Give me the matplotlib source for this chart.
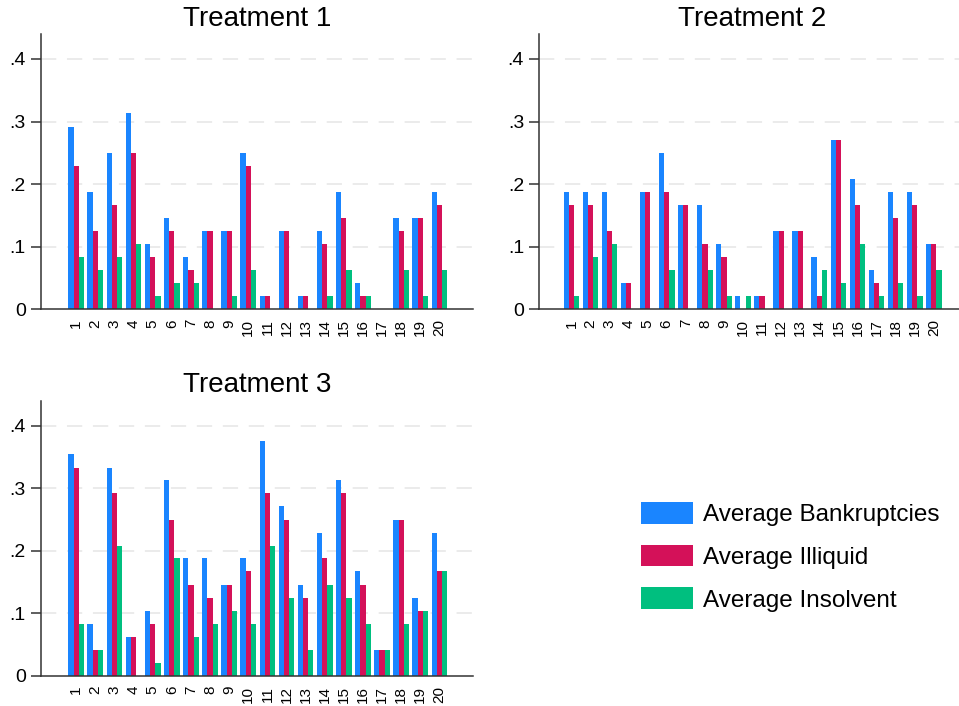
import numpy as np
import matplotlib.pyplot as plt
from matplotlib.patches import Patch

plt.rcParams['font.family'] = ['Liberation Sans', 'DejaVu Sans']

blue = '#1A85FF'
red = '#D41159'
green = '#00BF7F'
axis_color = '#333333'
grid_color = '#E6E6E6'

groups = list(range(1, 21))
labels = ['Average Bankruptcies', 'Average Illiquid', 'Average Insolvent']
titles = ['Treatment 1', 'Treatment 2', 'Treatment 3']

t1_bankrupt = [.292, .188, .25, .313, .104, .146, .083, .125, .125, .25, .021, .125, .021, .125, .188, .042, 0, .146, .146, .188]
t1_illiquid = [.229, .125, .167, .25, .083, .125, .063, .125, .125, .229, .021, .125, .021, .104, .146, .021, 0, .125, .146, .167]
t1_insolvent = [.083, .063, .083, .104, .021, .042, .042, 0, .021, .063, 0, 0, 0, .021, .063, .021, 0, .063, .021, .063]

t2_bankrupt = [.188, .188, .188, .042, .188, .25, .167, .167, .104, .021, .021, .125, .125, .083, .271, .208, .063, .188, .188, .104]
t2_illiquid = [.167, .167, .125, .042, .188, .188, .167, .104, .083, 0, .021, .125, .125, .021, .271, .167, .042, .146, .167, .104]
t2_insolvent = [.021, .083, .104, 0, 0, .063, 0, .063, .021, .021, 0, 0, 0, .063, .042, .104, .021, .042, .021, .063]

t3_bankrupt = [.354, .083, .333, .063, .104, .313, .188, .188, .146, .188, .375, .271, .146, .229, .313, .167, .042, .25, .125, .229]
t3_illiquid = [.333, .042, .292, .063, .083, .25, .146, .125, .146, .167, .292, .25, .125, .188, .292, .146, .042, .25, .104, .167]
t3_insolvent = [.083, .042, .208, 0, .021, .188, .063, .083, .104, .083, .208, .125, .042, .146, .125, .083, .042, .083, .104, .167]

panels = [
    (t1_bankrupt, t1_illiquid, t1_insolvent),
    (t2_bankrupt, t2_illiquid, t2_insolvent),
    (t3_bankrupt, t3_illiquid, t3_insolvent),
]

# axes rectangles in figure fractions, and x limits per panel
rects = [
    [0.0428, 0.5619, 0.4505, 0.390],
    [0.5624, 0.5619, 0.4439, 0.390],
    [0.0428, 0.0425, 0.4505, 0.390],
]
xlims = [(-0.84, 21.76), (-0.68, 21.64), (-0.84, 21.76)]

fig = plt.figure(figsize=(9.59, 7.06), dpi=100)
fig.patch.set_facecolor('white')

x = np.array(groups)
w = 0.274
colors = [blue, red, green]

for i, (series, rect, title) in enumerate(zip(panels, rects, titles)):
    ax = fig.add_axes(rect)
    for j, (vals, c) in enumerate(zip(series, colors)):
        ax.bar(x + (j - 1) * w, vals, width=w, color=c, linewidth=0)
    ax.set_xlim(*xlims[i])
    ax.set_ylim(0, 0.44)
    ax.set_yticks([0, .1, .2, .3, .4])
    ax.set_yticklabels(['0', '.1', '.2', '.3', '.4'], fontsize=14)
    ax.set_xticks(x)
    ax.set_xticklabels([str(g) for g in groups], rotation=90, fontsize=11)
    ax.tick_params(axis='x', length=0, pad=7)
    ax.tick_params(axis='y', length=7, width=1.1, color=axis_color, pad=4)
    for yv in [.1, .2, .3, .4]:
        ax.axhline(yv, color=grid_color, lw=1.1, dashes=(10, 7), zorder=0)
    for s in ['top', 'right']:
        ax.spines[s].set_visible(False)
    for s in ['left', 'bottom']:
        ax.spines[s].set_color(axis_color)
        ax.spines[s].set_linewidth(1.1)
    ax.set_title(title, fontsize=20, pad=6)

handles = [Patch(facecolor=c, edgecolor='none') for c in colors]
fig.legend(handles, labels, loc='upper left', bbox_to_anchor=(641 / 959, 1 - 502 / 706),
           frameon=False, fontsize=17.5, handlelength=2.15, handleheight=1.0,
           handletextpad=0.42, labelspacing=0.76, borderpad=0, borderaxespad=0)

fig.savefig('out.png', dpi=100)
